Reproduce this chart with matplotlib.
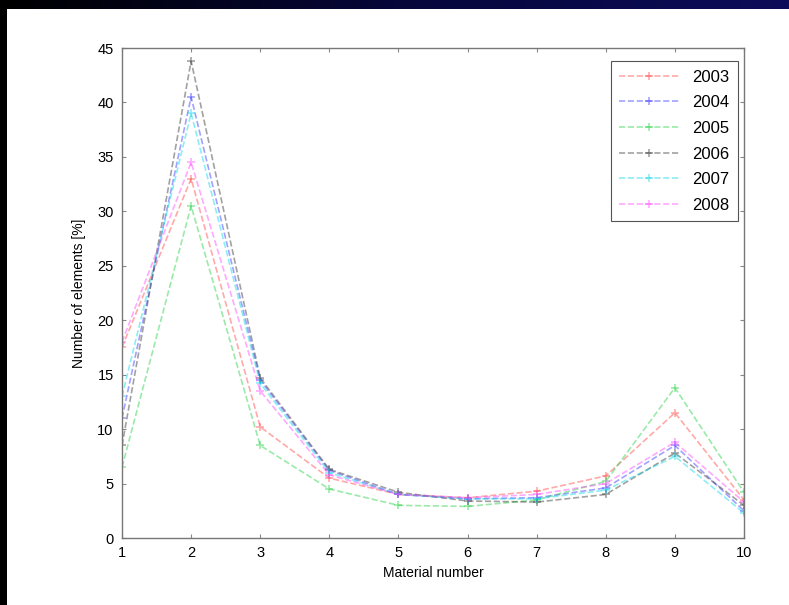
#!/usr/bin/env python3
"""
Share of elements per material number, 2003-2008.
"""

import numpy as np
import matplotlib
matplotlib.use("Agg")
import matplotlib.pyplot as plt
from matplotlib.patches import Rectangle

# Data
materials = [1, 2, 3, 4, 5, 6, 7, 8, 9, 10]
years = ["2003", "2004", "2005", "2006", "2007", "2008"]
y2003 = [17.5, 33.0, 10.2, 5.5, 4.0, 3.7, 4.3, 5.7, 11.5, 3.5]
y2004 = [11.0, 40.5, 14.5, 6.2, 4.0, 3.6, 3.7, 4.6, 8.5, 2.5]
y2005 = [6.5, 30.5, 8.5, 4.5, 3.0, 2.9, 3.5, 5.2, 13.8, 4.2]
y2006 = [8.5, 43.8, 14.7, 6.3, 4.2, 3.4, 3.3, 4.0, 7.8, 3.0]
y2007 = [13.0, 39.0, 14.2, 6.0, 4.0, 3.6, 3.6, 4.4, 7.5, 2.3]
y2008 = [18.0, 34.5, 13.5, 5.8, 4.0, 3.7, 4.0, 5.0, 8.8, 3.3]
series = [y2003, y2004, y2005, y2006, y2007, y2008]
colors = ["#ff4040", "#3030ff", "#20d040", "#303030", "#00d8e8", "#ff40ff"]

plt.rcParams['font.family'] = ['Liberation Sans', 'DejaVu Sans']

fig = plt.figure(figsize=(7.89, 6.05), dpi=100)
fig.patch.set_facecolor("white")

# slide frame: black strip on the left, dark navy band at the top
fig.patches.append(Rectangle((0, 0), 7 / 789, 1, transform=fig.transFigure,
                             facecolor="black", edgecolor="none", zorder=0))
band = fig.add_axes([0, 1 - 9 / 605, 1, 9 / 605])
grad = np.linspace(0, 1, 256).reshape(1, -1)
band.imshow(grad, aspect="auto",
            cmap=matplotlib.colors.LinearSegmentedColormap.from_list(
                "navy", ["#000000", "#06063a", "#0c0c5a"]))
band.axis("off")

ax = fig.add_axes([122 / 789, 67 / 605, (744 - 122) / 789, (538 - 48) / 605])
for vals, c, lab in zip(series, colors, years):
    ax.plot(materials, vals, linestyle="--", color=c, linewidth=1.2, alpha=0.45,
            marker="+", markersize=6, markeredgewidth=1.2, label=lab)

ax.set_xlim(1, 10)
ax.set_ylim(0, 45)
ax.set_xticks(materials)
ax.set_yticks(np.arange(0, 46, 5))
ax.tick_params(direction="in", top=True, right=True, length=3,
               color="#888888", labelsize=10.5, pad=6)
for s in ax.spines.values():
    s.set_color("#777777")
    s.set_linewidth(1.0)

ax.set_xlabel("Material number", fontsize=10, labelpad=4)
ax.set_ylabel("Number of elements [%]", fontsize=10, labelpad=8)

leg = ax.legend(loc="upper right", bbox_to_anchor=(0.990, 0.973), fontsize=12,
                fancybox=False, framealpha=1, edgecolor="#555555",
                handlelength=3.6, labelspacing=0.64, borderpad=0.5,
                borderaxespad=0)
leg.get_frame().set_linewidth(0.8)

fig.savefig("out.png", dpi=100)
